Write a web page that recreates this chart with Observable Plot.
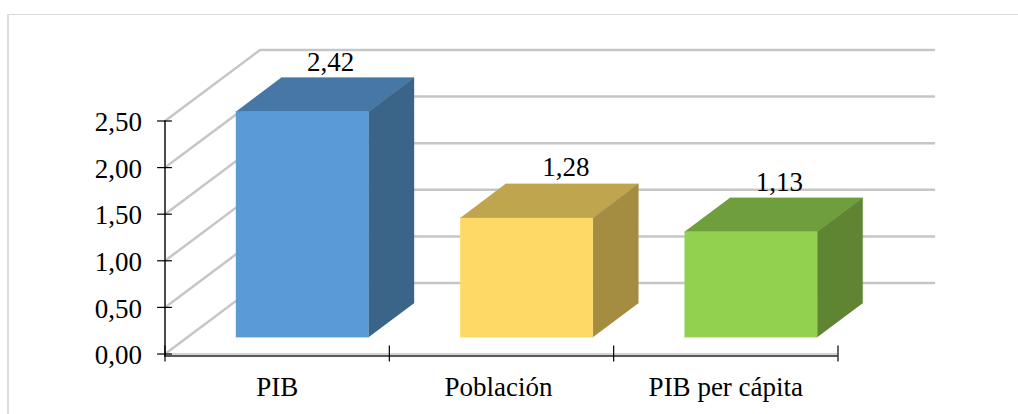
<!DOCTYPE html>
<html><head><meta charset="utf-8">
<script src="https://cdn.jsdelivr.net/npm/d3@7"></script>
<script src="https://cdn.jsdelivr.net/npm/@observablehq/plot@0.6"></script>
<style>
html,body{margin:0;padding:0;background:#fff;overflow:hidden}
#card{position:absolute;left:7px;top:14px;width:1011px;height:400px;border-left:2px solid #dcdcdc;border-top:1px solid #dcdcdc;box-sizing:border-box}
#chart{position:absolute;left:0;top:0}
svg{background:transparent}
</style></head><body><div id="card"></div><div id="chart"></div>
<script>
const categories = ["PIB", "Población", "PIB per cápita"];
const values = [2.42, 1.28, 1.13];
const valueLabels = ["2,42", "1,28", "1,13"];
const yTicks = [0, 0.5, 1, 1.5, 2, 2.5];
const xTicks = [0, 1, 2, 3];
const frontColors = ["#5b9bd5", "#ffd966", "#92d050"];
const topColors = ["#4778a5", "#c0a54f", "#6f9e3c"];
const sideColors = ["#3a6488", "#a48c40", "#5f8532"];
// label placement relative to each bar's back-top edge, in pixels
const labelDx = [-17, -6, -17];
const labelDy = [-15, -17, -15];
const categoryDx = [0, -3, 0];

// oblique projection: depth z (0 front, 1 back wall) shifts in data units
const W = 837.5 - 164.5, H = 233;
const xPerZ = 95 / (W / 3), yPerZ = 71 / (H / 2.5);
const P = (x, y, z) => ({ x: x + z * xPerZ, y: y + z * yPerZ });
const z0 = 0.237, z1 = 0.716, inset = 0.2153, bw = 0.5915;
const xEnd = (933.5 - 164.5 - 95) / (W / 3);

const poly = (id, fill, pts) => pts.map(p => ({ ...p, id, fill }));
const faces = categories.flatMap((c, i) => {
  const a = i + inset, b = a + bw, v = values[i];
  return [
    ...poly(c + "-top", topColors[i], [P(a, v, z0), P(b, v, z0), P(b, v, z1), P(a, v, z1)]),
    ...poly(c + "-side", sideColors[i], [P(b, 0, z0), P(b, v, z0), P(b, v, z1), P(b, 0, z1)]),
    ...poly(c + "-front", frontColors[i], [P(a, 0, z0), P(b, 0, z0), P(b, v, z0), P(a, v, z0)])
  ];
});
const walls = yTicks.flatMap(t => [
  { ...P(0, t, 0), id: t }, { ...P(0, t, 1), id: t }, { ...P(xEnd, t, 1), id: t }
]);
const labels = categories.map((c, i) => {
  const p = P(i + inset + bw / 2, values[i], z1);
  return { ...p, t: valueLabels[i], dx: labelDx[i], dy: labelDy[i] };
});
const font = "'Liberation Serif', 'Times New Roman', serif";

const plot = Plot.plot({
  width: 1018, height: 414,
  marginLeft: 164.5, marginRight: 1018 - 837.5, marginTop: 120.5, marginBottom: 414 - 353.5,
  x: { domain: [0, 3], axis: null },
  y: { domain: [0, 2.5], axis: null },
  style: { fontFamily: font, overflow: "visible", background: "transparent" },
  marks: [
    Plot.line(walls, { x: "x", y: "y", z: "id", stroke: "#c6c6c6", strokeWidth: 2.5, strokeLinejoin: "round" }),
    Plot.ruleY([0], { x1: 0, x2: 3, stroke: "#d4d4d4", strokeWidth: 2 }),
    Plot.line(faces, { x: "x", y: "y", z: "id", fill: "fill", stroke: "fill", strokeWidth: 0.6, strokeOpacity: 0.5 }),
    Plot.ruleY([0], { x1: 0, x2: 3, dy: 2, stroke: "#222", strokeWidth: 1.5 }),
    Plot.ruleX([0], { y1: -0.03, y2: 2.5, stroke: "#111", strokeWidth: 1.5 }),
    Plot.ruleY(yTicks, { x1: -0.033, x2: 0.033, stroke: "#000", strokeWidth: 1.2 }),
    Plot.ruleX(xTicks, { y1: -0.085, y2: 0.085, stroke: "#000", strokeWidth: 1.2 }),
    Plot.axisY(yTicks, {
      anchor: "left", tickSize: 0, tickPadding: 23, fontSize: 27, fill: "#000", dy: 1.5,
      tickFormat: d => d.toFixed(2).replace(".", ","), label: null
    }),
    ...categories.map((c, i) => Plot.text([c], { x: () => i + 0.5, y: 0, text: d => d, dx: categoryDx[i], dy: 33, fontSize: 27, fill: "#000" })),
    ...labels.map(l => Plot.text([l], { x: "x", y: "y", text: "t", dx: l.dx, dy: l.dy, fontSize: 27, fill: "#000" }))
  ]
});
document.getElementById("chart").appendChild(plot);
</script></body></html>
